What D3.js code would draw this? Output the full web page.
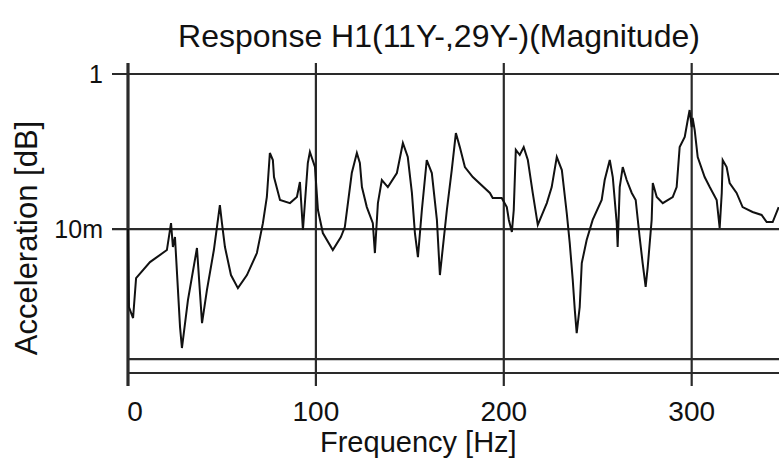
<!DOCTYPE html>
<html><head><meta charset="utf-8">
<script src="https://cdn.jsdelivr.net/npm/d3@7"></script>
<style>
html,body{margin:0;padding:0;background:#fff;}
svg{display:block;}
text{font-family:"Liberation Sans",Arial,sans-serif;fill:#111;}
</style></head>
<body>
<svg id="chart" width="779" height="459"></svg>
<script>
// ---- data ----
const title = "Response H1(11Y-,29Y-)(Magnitude)";
const xLabel = "Frequency [Hz]";
const yLabel = "Acceleration [dB]";
const xTicks = [0, 100, 200, 300];
const xTickLabels = ["0", "100", "200", "300"];
const yTicks = [1, 0.01];
const yTickLabels = ["1", "10m"];
const yExtraGrid = [2.1e-4];
const xDomain = [0, 347];
const yDomain = [1.39e-4, 1];

const freq = [0,0.5,2.7,4.3,11.7,20.7,22.9,23.9,25.0,27.7,28.7,31.9,36.7,39.4,42.0,45.7,48.9,50.0,51.6,54.8,58.5,63.3,68.6,71.8,73.9,75.5,77.1,77.7,80.9,86.2,89.9,91.5,93.1,95.7,96.8,99.5,101.1,103.7,109.0,113.3,115.4,119.1,121.8,123.4,124.5,127.1,130.3,131.4,133.0,135.1,138.3,143.1,146.3,148.9,151.1,152.7,154.3,156.4,159.0,161.7,164.4,166.0,169.7,172.3,174.5,176.6,179.3,183.5,192.6,194.1,198.9,201.6,202.7,204.3,205.3,206.4,208.5,210.6,212.8,215.4,218.1,222.9,225.5,228.2,230.9,233.5,235.1,236.7,237.8,238.8,240.4,241.5,244.1,247.3,252.1,253.7,256.4,258.0,260.1,260.6,261.7,263.3,265.4,268.1,270.2,272.3,273.9,275.5,276.6,278.7,279.3,281.4,284.6,289.9,292.0,293.6,296.3,297.9,298.9,300.0,300.5,301.6,303.2,306.9,309.6,313.3,314.9,316.0,316.5,318.6,320.2,323.9,327.1,332.4,337.2,339.9,343.1,346.3];
const mag = [0.0100,0.000986,0.000711,0.00233,0.00375,0.00536,0.0119,0.00586,0.00789,0.000543,0.000292,0.00121,0.00569,0.000612,0.00163,0.00536,0.0204,0.0119,0.00586,0.00255,0.00173,0.00255,0.00490,0.0119,0.0259,0.0957,0.0777,0.0469,0.0237,0.0216,0.0259,0.0404,0.00971,0.0711,0.0986,0.0631,0.0176,0.00888,0.00536,0.00789,0.0106,0.0528,0.0957,0.0711,0.0348,0.0192,0.0119,0.00490,0.0216,0.0429,0.0348,0.0528,0.129,0.0849,0.0292,0.00888,0.00435,0.0176,0.0777,0.0528,0.0131,0.00255,0.0176,0.0577,0.173,0.114,0.0631,0.0469,0.0292,0.0251,0.0251,0.0192,0.0131,0.00915,0.0176,0.105,0.0902,0.114,0.0777,0.0292,0.0113,0.0216,0.0348,0.0849,0.0577,0.0161,0.00659,0.00220,0.000901,0.000455,0.000986,0.00364,0.00721,0.0131,0.0237,0.0429,0.0777,0.0469,0.0119,0.00586,0.0348,0.0631,0.0429,0.0292,0.0237,0.00789,0.00364,0.00179,0.00324,0.0131,0.0392,0.0259,0.0216,0.0259,0.0348,0.114,0.154,0.255,0.343,0.207,0.271,0.189,0.0849,0.0469,0.0348,0.0237,0.0103,0.0292,0.0777,0.0631,0.0392,0.0292,0.0192,0.0166,0.0152,0.0123,0.0123,0.0192];

// ---- layout ----
const plotLeft = 128, plotRight = 780, plotTop = 74, plotBottom = 373;
const svg = d3.select("#chart");
const x = d3.scaleLinear().domain(xDomain).range([plotLeft, plotRight]);
const y = d3.scaleLog().domain(yDomain).range([plotBottom, plotTop]);
const gridColor = "#2a2a2a";

// horizontal grid lines (with small tick to the left)
svg.selectAll("line.hgrid").data(yTicks).join("line")
  .attr("class","hgrid")
  .attr("x1", plotLeft - 16).attr("x2", 779)
  .attr("y1", d => y(d)).attr("y2", d => y(d))
  .attr("stroke", gridColor).attr("stroke-width", 2.2);

svg.selectAll("line.hextra").data(yExtraGrid.concat([yDomain[0]])).join("line")
  .attr("class","hextra")
  .attr("x1", plotLeft).attr("x2", 779)
  .attr("y1", d => y(d)).attr("y2", d => y(d))
  .attr("stroke", gridColor).attr("stroke-width", 2.2);

// vertical grid lines (extend beyond top and below bottom as ticks)
svg.selectAll("line.vgrid").data(xTicks).join("line")
  .attr("class","vgrid")
  .attr("x1", d => x(d)).attr("x2", d => x(d))
  .attr("y1", plotTop - 11).attr("y2", plotBottom + 13)
  .attr("stroke", gridColor)
  .attr("stroke-width", d => d === 0 ? 3.2 : 2.2);

// y tick labels
svg.selectAll("text.ytl").data(yTicks).join("text")
  .attr("class","ytl")
  .attr("x", 103).attr("y", d => y(d))
  .attr("dy", "0.36em")
  .attr("text-anchor","end")
  .attr("font-size", 25)
  .text((d,i) => yTickLabels[i]);

// x tick labels
svg.selectAll("text.xtl").data(xTicks).join("text")
  .attr("class","xtl")
  .attr("x", d => x(d) + (d === 0 ? 7 : 0)).attr("y", 421)
  .attr("text-anchor","middle")
  .attr("font-size", 28)
  .text((d,i) => xTickLabels[i]);

// data line
const line = d3.line().x((d,i) => x(freq[i])).y(d => y(d));
svg.append("path").datum(mag)
  .attr("d", line)
  .attr("fill","none")
  .attr("stroke","#111")
  .attr("stroke-width", 2)
  .attr("stroke-linejoin","miter");

// titles
svg.append("text").attr("x", 439).attr("y", 47)
  .attr("text-anchor","middle").attr("font-size", 32).text(title);
svg.append("text").attr("x", 320).attr("y", 452)
  .attr("text-anchor","start").attr("font-size", 29).text(xLabel);
svg.append("text").attr("transform","translate(37,238) rotate(-90)")
  .attr("text-anchor","middle").attr("font-size", 31).text(yLabel);
</script>
</body></html>
